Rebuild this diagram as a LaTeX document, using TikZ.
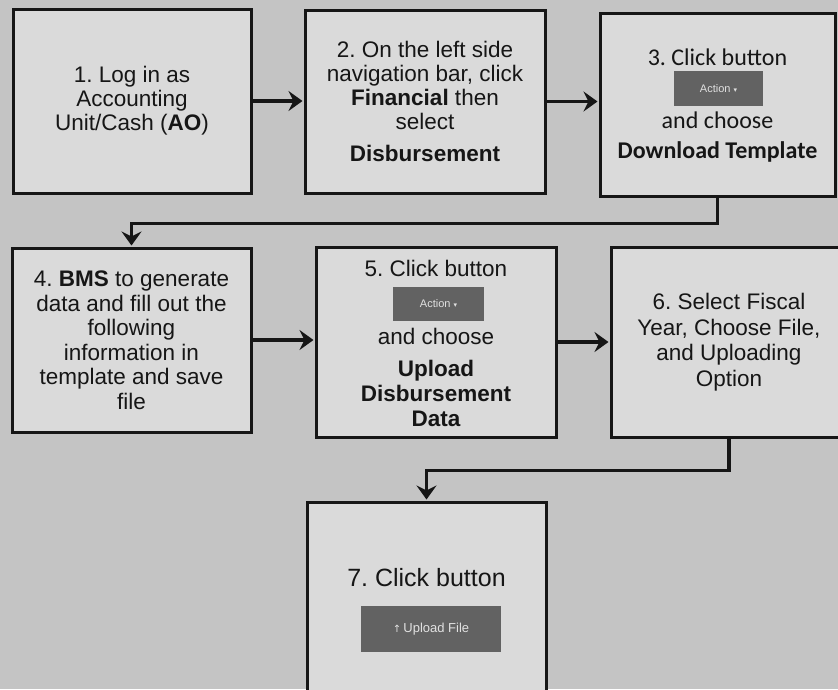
\documentclass[tikz,border=0pt]{standalone}
\usepackage{fontspec}
\setmainfont{Liberation Sans}
\newfontfamily\calibrilike{Carlito}
\newfontfamily\symfont{DejaVu Sans}
\usetikzlibrary{arrows.meta}
\frenchspacing

\definecolor{paper}{RGB}{196,196,196}
\definecolor{boxfill}{RGB}{218,218,218}
\definecolor{btnfill}{RGB}{98,98,98}
\definecolor{btntext}{RGB}{225,225,225}
\definecolor{ink}{RGB}{22,22,22}

\begin{document}
\begin{tikzpicture}[x=1pt,y=-1pt,
  stepbox/.style={draw=ink, line width=3pt, fill=boxfill, inner sep=0pt,
    align=center, text=ink, font=\fontsize{22.5}{24}\selectfont},
  label/.style={inner sep=0pt, align=center, text=ink,
    font=\fontsize{22.5}{24}\selectfont},
  button/.style={fill=btnfill, text=btntext, inner sep=0pt,
    font=\fontsize{11}{12}\selectfont},
  flow/.style={draw=ink, line width=3.4pt, shorten >=1pt,
    -{Stealth[length=14pt,width=20pt,inset=5pt]}}]

  % canvas
  \useasboundingbox (0,0) rectangle (838,689);
  \clip (0,0) rectangle (838,689);
  \fill[paper] (0,0) rectangle (838,689);

  % step boxes
  \node[stepbox, minimum width=238pt, minimum height=184pt] (b1) at (132,101)
    {1. Log in as\\Accounting\\Unit/Cash (\textbf{AO})};
  \node[stepbox, minimum width=240pt, minimum height=183pt] (b2) at (425,101.5)
    {2. On the left side\\navigation bar, click\\\textbf{Financial} then\\select\\[8pt]\textbf{Disbursement}};
  \node[stepbox, minimum width=235pt, minimum height=183pt] (b3) at (717.5,104.5) {};
  \node[stepbox, minimum width=239pt, minimum height=184pt,
    font=\fontsize{22.5}{24.5}\selectfont] (b4) at (131.5,340)
    {4. \textbf{BMS} to generate\\data and fill out the\\following\\information in\\template and save\\file};
  \node[stepbox, minimum width=240pt, minimum height=190pt] (b5) at (436,342) {};
  \node[stepbox, minimum width=236pt, minimum height=190pt,
    font=\fontsize{22.5}{25.5}\selectfont] (b6) at (729,342)
    {6. Select Fiscal\\Year, Choose File,\\and Uploading\\Option};
  \node[stepbox, minimum width=239pt, minimum height=218pt] (b7) at (426.5,611) {};

  % step 3 contents (yshift is a page dimension: positive is upward)
  \node[label, font=\calibrilike\fontsize{24}{26}\selectfont] (t3a) at ([yshift=47.5pt]b3.center) {3. Click button};
  \node[button, minimum width=89pt, minimum height=35pt] (btn3) at ([xshift=1pt,yshift=16pt]b3.center)
    {Action {\symfont\fontsize{7}{8}\selectfont ▾}};
  \node[label, font=\calibrilike\fontsize{24}{26}\selectfont] (t3b) at ([yshift=-15.5pt]b3.center) {and choose};
  \node[label, font=\calibrilike\bfseries\fontsize{24}{26}\selectfont] (t3c) at ([yshift=-47.5pt]b3.center) {Download Template};

  % step 5 contents
  \node[label] (t5a) at ([yshift=74pt]b5.center) {5. Click button};
  \node[button, minimum width=91pt, minimum height=34pt] (btn5) at ([xshift=2.5pt,yshift=38pt]b5.center)
    {Action {\symfont\fontsize{7}{8}\selectfont ▾}};
  \node[label] (t5b) at ([yshift=6pt]b5.center) {and choose};
  \node[label, font=\bfseries\fontsize{22.5}{25}\selectfont] (t5c) at ([yshift=-51pt]b5.center)
    {Upload\\Disbursement\\Data};

  % step 7 contents
  \node[label, font=\fontsize{25}{27}\selectfont] (t7a) at ([yshift=33pt]b7.center) {7. Click button};
  \node[button, minimum width=140pt, minimum height=46pt, font=\fontsize{13}{14}\selectfont]
    (btn7) at ([xshift=4.5pt,yshift=-18pt]b7.center)
    {{\symfont\fontsize{10}{12}\selectfont ↑}\,Upload File};

  % connectors
  \draw[flow] (b1.east) -- (b1.east -| b2.west);
  \draw[flow] (b2.east) -- (b2.east -| b3.west);
  \draw[flow] (b3.south) -- ++(0,26) -| (b4.north);
  \draw[flow] (b4.east) -- (b4.east -| b5.west);
  \draw[flow] (b5.east) -- (b5.east -| b6.west);
  \draw[flow] (b6.south) -- ++(0,32) -| (b7.north);
\end{tikzpicture}
\end{document}
